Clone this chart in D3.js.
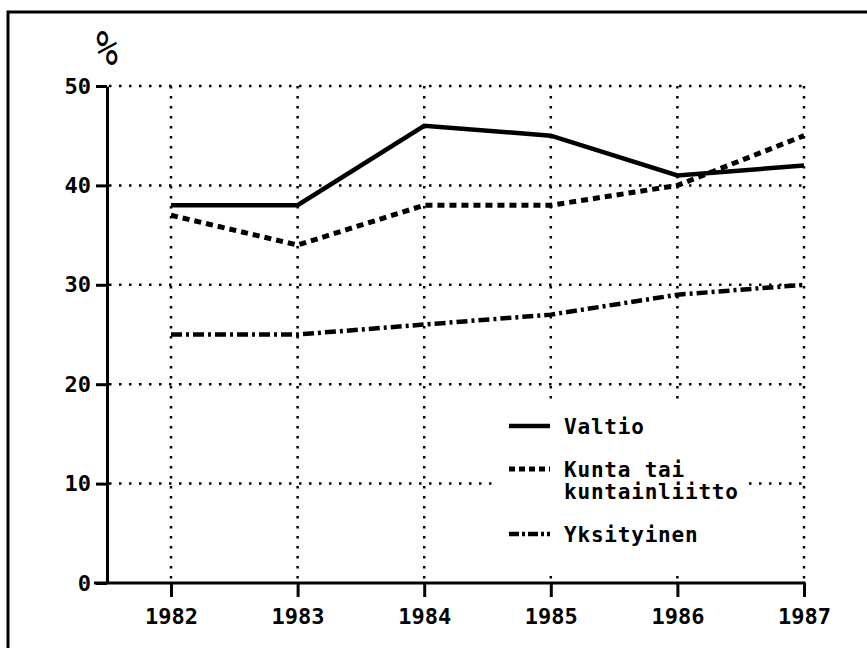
<!DOCTYPE html>
<html>
<head>
<meta charset="utf-8">
<script src="https://cdn.jsdelivr.net/npm/d3@7"></script>
<style>
  body { margin: 0; background: #fff; }
  svg text { font-family: "DejaVu Sans Mono", monospace; font-weight: bold; fill: #000; }
  .axis path, .axis line { stroke: #000; stroke-width: 3; }
  .axis text { font-size: 22px; }
  .grid line { stroke: #000; stroke-width: 2.5; stroke-dasharray: 2.5 7.5; }
  .series { fill: none; stroke: #000; }
  .legend text { font-size: 21px; letter-spacing: 0.8px; }
</style>
</head>
<body>
<svg id="chart" width="867" height="648"></svg>
<script>
const years = [1982, 1983, 1984, 1985, 1986, 1987];
const valtio = [38, 38, 46, 45, 41, 42];
const kunta = [37, 34, 38, 38, 40, 45];
const yksityinen = [25, 25, 26, 27, 29, 30];
const yTicks = [0, 10, 20, 30, 40, 50];
const seriesNames = ["Valtio", "Kunta tai|kuntainliitto", "Yksityinen"];

const svg = d3.select("svg#chart");

// frame: only top and left edges fall inside the picture
svg.append("rect")
  .attr("x", 8).attr("y", 12)
  .attr("width", 900).attr("height", 700)
  .attr("fill", "none").attr("stroke", "#000").attr("stroke-width", 3);

// SCALES
const x = d3.scaleLinear().domain([1982, 1987]).range([171, 804]);
const y = d3.scaleLinear().domain([0, 50]).range([583, 86]);
const x0 = 107;

// GRID
const grid = svg.append("g").attr("class", "grid");
grid.selectAll(".h").data(yTicks.filter(d => d > 0)).enter().append("line")
  .attr("x1", x0 + 2).attr("x2", x(1987))
  .attr("y1", d => y(d)).attr("y2", d => y(d));
grid.selectAll(".v").data(years).enter().append("line")
  .attr("x1", d => x(d)).attr("x2", d => x(d))
  .attr("y1", y(50)).attr("y2", y(0) - 2);

// legend background hides the grid under it
svg.append("rect")
  .attr("x", 495).attr("y", 402)
  .attr("width", 250).attr("height", 168)
  .attr("fill", "#fff");

// AXES
const yAxis = d3.axisLeft(y).tickValues(yTicks).tickSize(11).tickSizeOuter(0).tickPadding(5);
svg.append("g").attr("class", "axis")
  .attr("transform", `translate(${x0},0)`)
  .call(yAxis);

const xAxis = d3.axisBottom(x).tickValues(years).tickFormat(d3.format("d"))
  .tickSize(14).tickSizeOuter(0).tickPadding(11);
const xg = svg.append("g").attr("class", "axis")
  .attr("transform", `translate(0,${y(0)})`)
  .call(xAxis);
xg.select(".domain").remove();
svg.append("line")
  .attr("x1", x0 - 13).attr("x2", x(1987) + 1.5)
  .attr("y1", y(0)).attr("y2", y(0))
  .attr("stroke", "#000").attr("stroke-width", 3);

svg.append("text")
  .attr("transform", `translate(${x0},65) scale(1,1.35)`)
  .attr("text-anchor", "middle")
  .style("font-size", "36px")
  .style("font-weight", "normal")
  .text("%");

// SERIES
const styles = [
  { data: valtio, width: 4.5, dash: null },
  { data: kunta, width: 5, dash: "7 5" },
  { data: yksityinen, width: 4.5, dash: "11 4 3 4" }
];
const line = d3.line().x((d, i) => x(years[i])).y(d => y(d));

svg.selectAll(".series").data(styles).enter().append("path")
  .attr("class", "series")
  .attr("d", d => line(d.data))
  .attr("stroke-width", d => d.width)
  .attr("stroke-dasharray", d => d.dash);

// LEGEND
const legendY = [426, 469, 534];
const legend = svg.append("g").attr("class", "legend");
const items = legend.selectAll("g").data(styles).enter().append("g")
  .attr("transform", (d, i) => `translate(0,${legendY[i]})`);
items.append("line")
  .attr("x1", 509).attr("x2", 550)
  .attr("stroke", "#000")
  .attr("stroke-width", d => d.width)
  .attr("stroke-dasharray", (d, i) => i === 1 ? "6 4" : i === 2 ? "10 3 3 3" : null);
items.append("text")
  .attr("x", 564).attr("y", 8)
  .each(function(d, i) {
    const parts = seriesNames[i].split("|");
    d3.select(this).selectAll("tspan").data(parts).enter().append("tspan")
      .attr("x", 564).attr("dy", (p, j) => j === 0 ? 0 : 22)
      .text(p => p);
  });
</script>
</body>
</html>
